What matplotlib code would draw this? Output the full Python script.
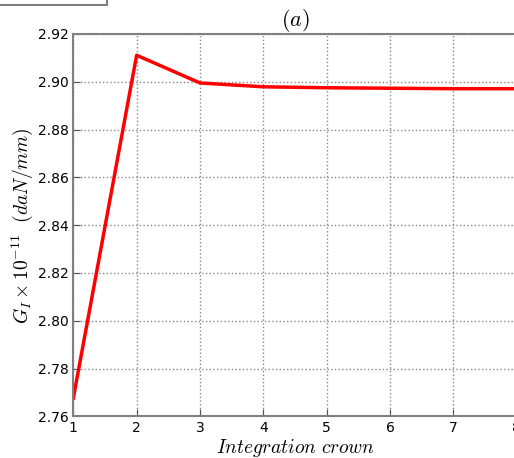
import matplotlib
matplotlib.use("Agg")
import matplotlib.pyplot as plt
from matplotlib.patches import Rectangle

# datos
corona = [1, 2, 3, 4, 5, 6, 7, 8]
g_i = [2.7676, 2.9111, 2.8995, 2.8979, 2.8975, 2.8973, 2.8971, 2.8971]
yticks = [2.76, 2.78, 2.80, 2.82, 2.84, 2.86, 2.88, 2.90, 2.92]

plt.rcParams['mathtext.fontset'] = 'cm'

fig = plt.figure(figsize=(5.14, 4.58), dpi=100)
ax = fig.add_axes([0.1426, 0.0910, 0.8627, 0.8348])

ax.plot(corona, g_i, color='red', linewidth=2.5)

ax.set_xlim(1, 8)
ax.set_ylim(2.76, 2.92)
ax.set_xticks(corona)
ax.set_yticks(yticks)
ax.set_yticklabels(["%.2f" % v for v in yticks])
ax.tick_params(direction='in', length=5, color='#555555', labelsize=10)
ax.grid(True, linestyle=':', color='#888888', linewidth=1)
for s in ax.spines.values():
    s.set_color('#808080')
    s.set_linewidth(1.5)

ax.set_title(r'$(a)$', fontsize=16, pad=3)
ax.set_xlabel(r'$Integration\ crown$', fontsize=14, labelpad=1)
ax.set_ylabel(r'$G_I \times 10^{-11}\ \ (daN/mm)$', fontsize=14, labelpad=2)

# trozo de recuadro cortado arriba a la izquierda
fig.patches.append(Rectangle((-0.05, 0.988), 0.258, 0.05, transform=fig.transFigure,
                             fill=False, edgecolor='#808080', linewidth=1.5))

fig.savefig('out.png', dpi=100)
